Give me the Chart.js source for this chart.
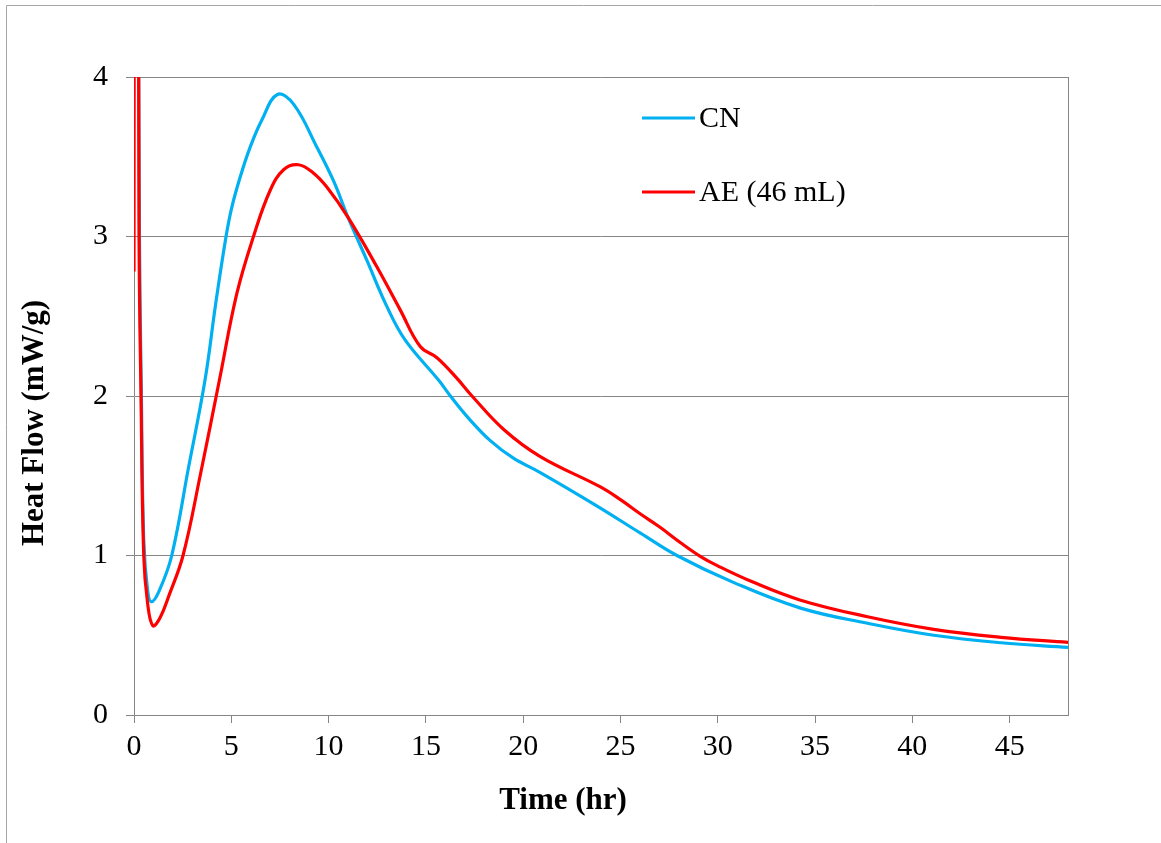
<!DOCTYPE html>
<html>
<head>
<meta charset="utf-8">
<title>Heat Flow</title>
<script src="https://cdn.jsdelivr.net/npm/chart.js@4.4.0/dist/chart.umd.min.js"></script>
<style>
    html, body { margin: 0; padding: 0; background: #fff; }
    #wrap { position: relative; width: 1161px; height: 843px; }
</style>
</head>
<body>
<div id="wrap"><canvas id="chartHeatFlow" width="1161" height="843"></canvas></div>
<script>
// calorimetry curves, time in hours, heat flow in mW/g
const cnTime = [0, 0.1, 0.18, 0.28, 0.38, 0.5, 0.7, 0.9, 1.3, 1.94, 2.8, 3.65, 4.2, 4.73, 5.02, 5.45, 5.97, 6.57, 7.37, 8.2, 9.4, 10.25, 11.0, 11.97, 13.0, 13.94, 15.65, 16.26, 17.2, 18.31, 19.5, 20.88, 23.8, 26.03, 27.9, 30.83, 34.26, 37.7, 41.1, 44.55, 48];
const cnFlow = [6, 9, 6, 3.0, 2.0, 1.1, 0.78, 0.71, 0.78, 1.0, 1.55, 2.1, 2.58, 3.0, 3.18, 3.37, 3.56, 3.73, 3.89, 3.83, 3.56, 3.35, 3.12, 2.85, 2.56, 2.35, 2.1, 2.0, 1.86, 1.72, 1.61, 1.52, 1.31, 1.14, 1.0, 0.83, 0.67, 0.575, 0.5, 0.453, 0.424];

const aeTime = [0, 0.06, 0.16, 0.26, 0.36, 0.5, 0.7, 0.97, 1.34, 1.8, 2.52, 3.4, 4.39, 5.28, 6.14, 7.0, 7.7, 8.45, 9.2, 9.91, 11.0, 12.48, 13.68, 14.71, 15.57, 16.6, 17.37, 19.0, 20.88, 23.97, 25.0, 26.03, 27.0, 28.09, 29.1, 30.0, 31.68, 34.26, 37.7, 41.1, 44.55, 48];
const aeFlow = [2.78, 8, 8, 3.0, 2.0, 1.0, 0.7, 0.56, 0.61, 0.75, 1.0, 1.5, 2.1, 2.64, 3.0, 3.29, 3.42, 3.45, 3.4, 3.31, 3.12, 2.81, 2.54, 2.31, 2.24, 2.11, 2.0, 1.79, 1.62, 1.43, 1.35, 1.26, 1.18, 1.08, 0.995, 0.935, 0.84, 0.72, 0.616, 0.537, 0.487, 0.455];

const seriesNames = ["CN", "AE (46 mL)"];
const seriesColors = ["#00B0F0", "#FF0000"];

const serif = "'Liberation Serif', 'Times New Roman', serif";
const gridGray = "#868686";

const toPoints = (xs, ys) => xs.map((x, i) => ({x: x, y: ys[i]}));

// outer frame, plot border on the right, legend and axis titles
const decorations = {
    id: "decorations",
    afterDraw: (chart) => {
        const ctx = chart.ctx;
        const area = chart.chartArea;
        ctx.save();

        ctx.strokeStyle = "#a6a6a6";
        ctx.lineWidth = 1;
        ctx.beginPath();
        ctx.moveTo(6.5, 843);
        ctx.lineTo(6.5, 5.5);
        ctx.lineTo(1161, 5.5);
        ctx.stroke();

        ctx.strokeStyle = gridGray;
        ctx.beginPath();
        ctx.moveTo(Math.round(area.right) + 0.5, area.top);
        ctx.lineTo(Math.round(area.right) + 0.5, area.bottom);
        ctx.stroke();

        ctx.font = "30px " + serif;
        ctx.textBaseline = "middle";
        ctx.fillStyle = "#000";
        chart.data.datasets.forEach((ds, i) => {
            const y = 118 + i * 74;
            ctx.strokeStyle = ds.borderColor;
            ctx.lineWidth = 3;
            ctx.beginPath();
            ctx.moveTo(642, y);
            ctx.lineTo(695, y);
            ctx.stroke();
            ctx.fillText(ds.label, 699, y + 1);
        });

        ctx.font = "bold 31px " + serif;
        ctx.textAlign = "center";
        ctx.fillText("Time (hr)", 563, 801);

        ctx.translate(35, 423);
        ctx.rotate(-Math.PI / 2);
        ctx.fillText("Heat Flow (mW/g)", 0, 0);
        ctx.restore();
    }
};

new Chart(document.getElementById("chartHeatFlow"), {
    type   : "line",
    data   : {
        datasets: [{
            label          : seriesNames[0],
            data           : toPoints(cnTime, cnFlow),
            borderColor    : seriesColors[0],
            backgroundColor: seriesColors[0],
            borderWidth    : 3.2,
            pointRadius    : 0,
            tension        : 0.4,
            order          : 2
        }, {
            label          : seriesNames[1],
            data           : toPoints(aeTime, aeFlow),
            borderColor    : seriesColors[1],
            backgroundColor: seriesColors[1],
            borderWidth    : 3.2,
            pointRadius    : 0,
            tension        : 0.4,
            order          : 1
        }]
    },
    options: {
        responsive: false,
        animation : false,
        layout    : {padding: {top: 77, right: 93, left: 0, bottom: 0}},
        plugins   : {
            legend : {display: false},
            tooltip: {enabled: false}
        },
        scales    : {
            x: {
                type  : "linear",
                min   : 0,
                max   : 48,
                border: {color: gridGray, width: 1},
                grid  : {drawOnChartArea: false, color: gridGray, tickLength: 8},
                ticks : {
                    stepSize     : 5,
                    includeBounds: false,
                    maxRotation  : 0,
                    padding      : 6,
                    color        : "#000",
                    font         : {family: serif, size: 30}
                },
                afterFit: (scale) => { scale.height = 128; }
            },
            y: {
                min   : 0,
                max   : 4,
                border: {color: gridGray, width: 1},
                grid  : {color: gridGray, tickLength: 8},
                ticks : {
                    stepSize: 1,
                    padding : 18,
                    color   : "#000",
                    font    : {family: serif, size: 30}
                },
                afterFit: (scale) => { scale.width = 134; }
            }
        }
    },
    plugins: [decorations]
});
</script>
</body>
</html>
